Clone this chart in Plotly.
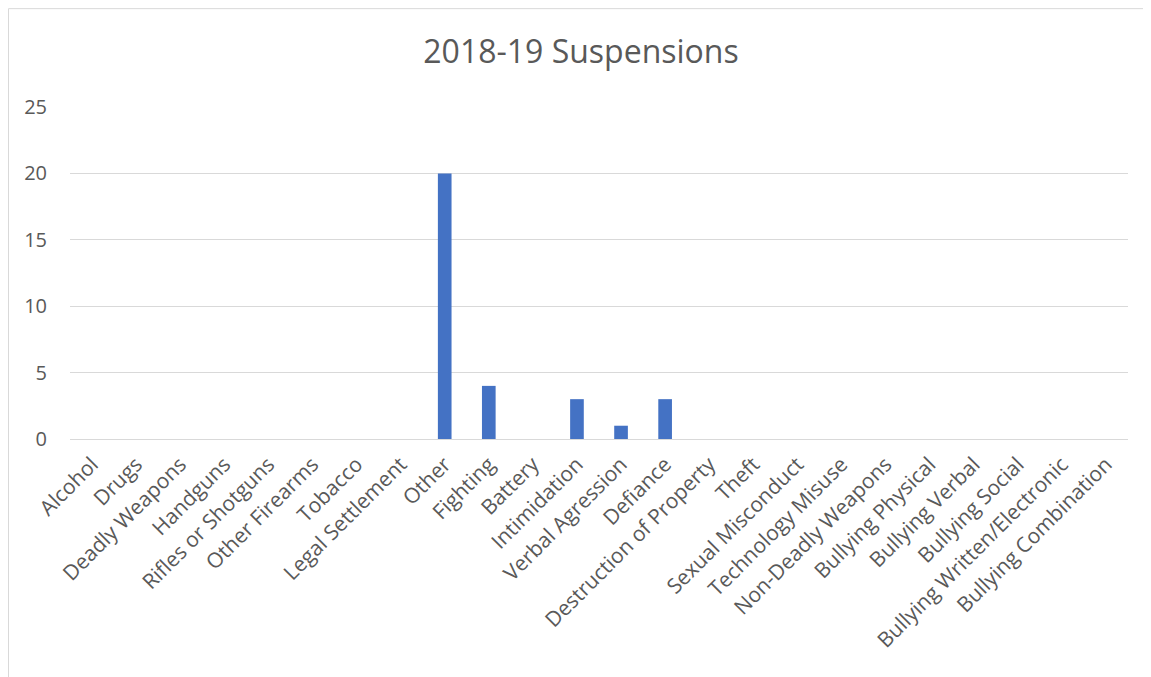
import plotly.graph_objects as go

categories = ["Alcohol", "Drugs", "Deadly Weapons", "Handguns", "Rifles or Shotguns",
              "Other Firearms", "Tobacco", "Legal Settlement", "Other", "Fighting",
              "Battery", "Intimidation", "Verbal Agression", "Defiance",
              "Destruction of Property", "Theft", "Sexual Misconduct", "Technology Misuse",
              "Non-Deadly Weapons", "Bullying Physical", "Bullying Verbal", "Bullying Social",
              "Bullying Written/Electronic", "Bullying Combination"]
values = [0, 0, 0, 0, 0, 0, 0, 0, 20, 4, 0, 3, 1, 3, 0, 0, 0, 0, 0, 0, 0, 0, 0, 0]
y_ticks = [0, 5, 10, 15, 20, 25]

# page is offset by the default 8px body margin
OFF = 8
W, H = 1151 - OFF, 677 - OFF
L, R, T, B = 70 - OFF, 1128 - OFF, 107 - OFF, 439.5 - OFF

fig = go.Figure(go.Bar(x=categories, y=values, marker=dict(color="#4472C4", line=dict(width=0)),
                       hoverinfo="x+y"))

font_family = "Open Sans, Noto Sans, sans-serif"
fig.update_layout(
    width=W, height=H,
    margin=dict(l=L, r=W - R, t=T, b=H - B, pad=0),
    paper_bgcolor="white", plot_bgcolor="white",
    bargap=0.69,
    showlegend=False,
    font=dict(family=font_family, color="#595959"),
    title=dict(text="2018-19 Suspensions", x=(581 - OFF) / W, xanchor="center",
               y=1 - (52 - OFF) / H, yanchor="middle", yref="container", xref="container",
               font=dict(size=32, color="#595959", family=font_family)),
    xaxis=dict(tickangle=-45, tickfont=dict(size=21, color="#595959"),
               showgrid=False, showline=False, zeroline=False, ticks="",
               ticklabelstandoff=8),
    yaxis=dict(range=[0, 25], tickvals=y_ticks, tickfont=dict(size=20, color="#595959"),
               showgrid=True, gridcolor="#D9D9D9", gridwidth=1, zeroline=True,
               zerolinecolor="#D9D9D9", zerolinewidth=1, showline=False, ticks="",
               ticklabelstandoff=22),
    shapes=[dict(type="rect", xref="paper", yref="paper",
                 x0=(0.5 - L) / (R - L), x1=(1160 - L) / (R - L),
                 y0=(B - 700) / (B - T), y1=(B - 0.5) / (B - T),
                 line=dict(color="#D9D9D9", width=1), fillcolor="rgba(0,0,0,0)", layer="below")],
)

fig.write_html("out.html")
